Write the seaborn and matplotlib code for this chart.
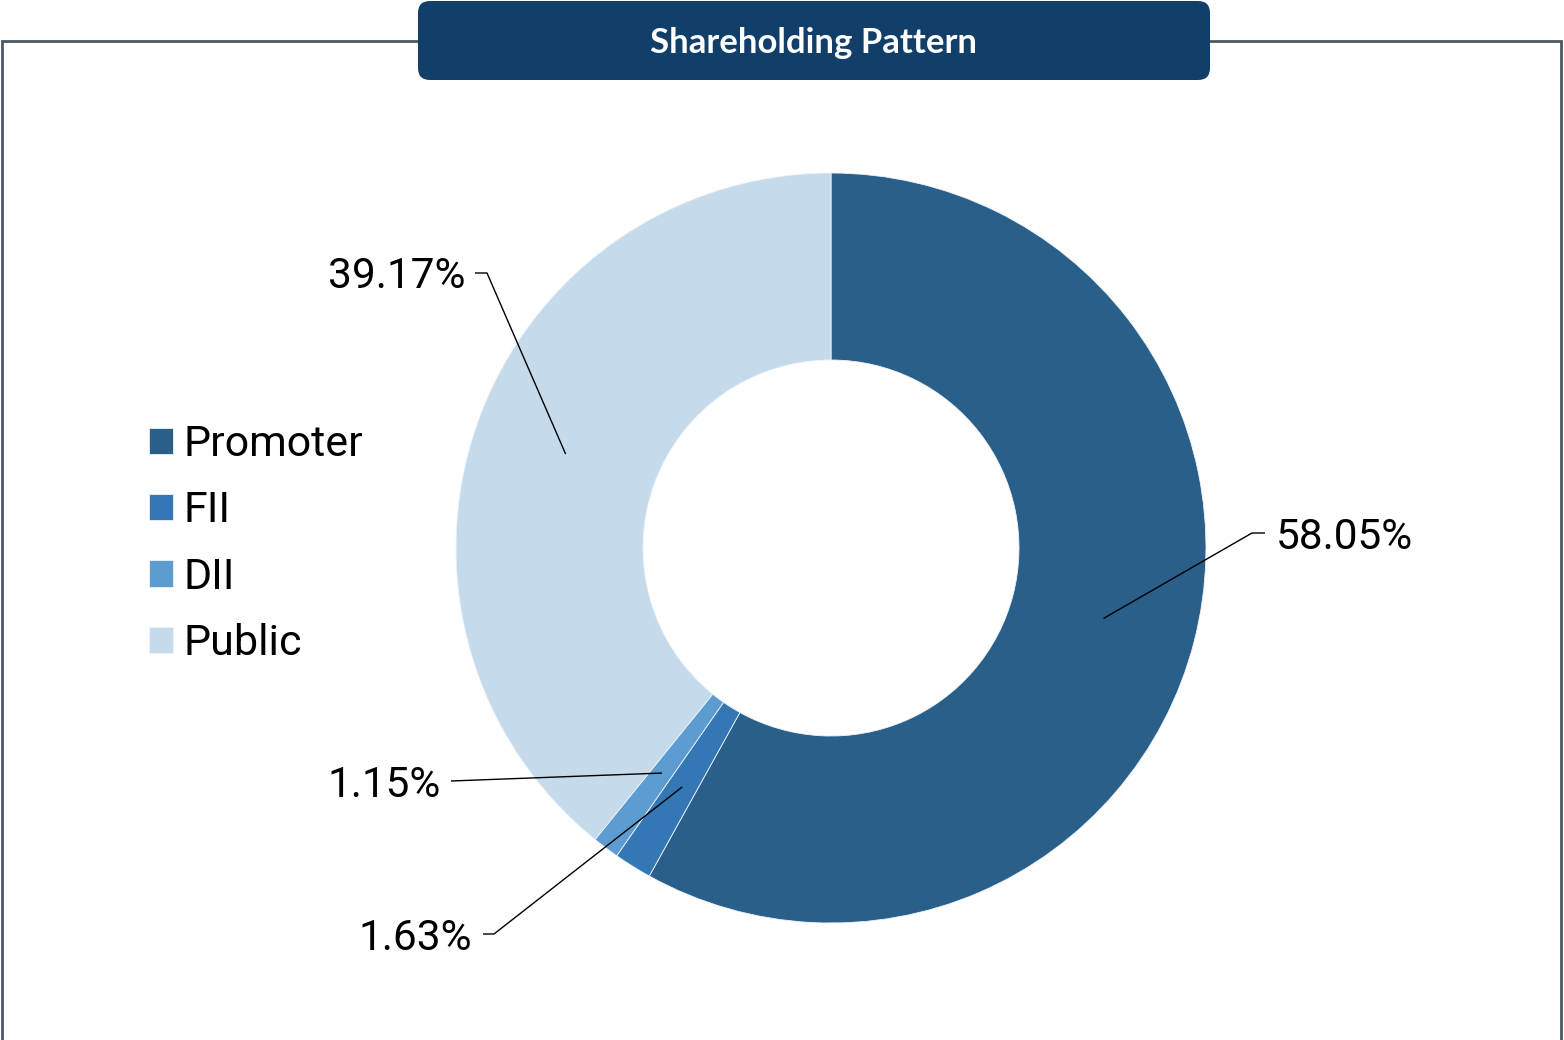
import numpy as np
import matplotlib
matplotlib.use('Agg')
import matplotlib.pyplot as plt
from matplotlib.patches import FancyBboxPatch
import seaborn as sns

# ── Data ─────────────────────────────────────────────────────────────────────
CATEGORIES = ['Promoter', 'FII', 'DII', 'Public']
SHARES = [58.05, 1.63, 1.15, 39.17]
COLORS = ['#2A5F8A', '#3378B5', '#5C9CD0', '#C5DBEC']
TITLE = 'Shareholding Pattern'

W, H = 1564, 1040


def Y(y):
    # pixel row (top-down) -> data y
    return H - y


sns.set_theme(style='white')
plt.rcParams['font.family'] = ['Roboto', 'DejaVu Sans']

fig = plt.figure(figsize=(W / 100, H / 100), dpi=100)
ax = fig.add_axes([0, 0, 1, 1])

# ── Donut ────────────────────────────────────────────────────────────────────
cx, cy, r_out, ring = 831, Y(548), 375, 187
wedges, _ = ax.pie(
    SHARES, colors=sns.color_palette(COLORS), startangle=90, counterclock=False,
    center=(cx, cy), radius=r_out,
    wedgeprops=dict(width=ring, edgecolor='#EEF3F8', linewidth=0.6)
)

# label layout: (text x, baseline y px, ha, elbow points in px)
LABEL_LAYOUT = [
    (1276, 549, 'left', [(1252, 533), (1265, 533)]),
    (472, 950, 'right', [(494, 934), (483, 934)]),
    (441, 797, 'right', [(451, 781)]),
    (465, 288, 'right', [(487, 273), (475, 273)]),
]

r_mid = r_out - ring / 2
for w, val, (tx, ty, ha, pts) in zip(wedges, SHARES, LABEL_LAYOUT):
    ang = np.deg2rad((w.theta1 + w.theta2) / 2)
    ax0, ay0 = cx + r_mid * np.cos(ang), cy + r_mid * np.sin(ang)
    xs = [ax0] + [p[0] for p in pts]
    ys = [ay0] + [Y(p[1]) for p in pts]
    ax.plot(xs, ys, color='black', lw=1.0, solid_capstyle='butt')
    ax.text(tx, Y(ty), f'{val:.2f}%', ha=ha, va='baseline',
            fontsize=30.5, color='black')

# ── Legend ───────────────────────────────────────────────────────────────────
leg = ax.legend(
    wedges, CATEGORIES, loc='upper left',
    bbox_to_anchor=(149 / W, 1 - 424 / H), frameon=False, fontsize=31,
    handlelength=0.56, handleheight=0.56, handletextpad=0.25,
    labelspacing=0.59, borderpad=0, borderaxespad=0
)
for t in leg.get_texts():
    t.set_color('black')

# ── Frame and title box ──────────────────────────────────────────────────────
frame_c = '#4B5866'
ax.plot([2, 2, 1561, 1561], [Y(1040), Y(41), Y(41), Y(1040)],
        color=frame_c, lw=2.0, solid_joinstyle='miter')

box = FancyBboxPatch((418, Y(80)), 1210 - 418, 79,
                     boxstyle='round,pad=0,rounding_size=12',
                     fc='#123F6A', ec='none', zorder=5)
ax.add_patch(box)
ax.text(814, Y(53), TITLE, ha='center', va='baseline', color='white',
        fontsize=25, fontweight='bold', family=['Lato', 'Open Sans', 'DejaVu Sans'],
        zorder=6)

ax.set_xlim(0, W)
ax.set_ylim(0, H)
ax.set_aspect('equal')
ax.axis('off')

fig.savefig('out.png', dpi=100, facecolor='white')
